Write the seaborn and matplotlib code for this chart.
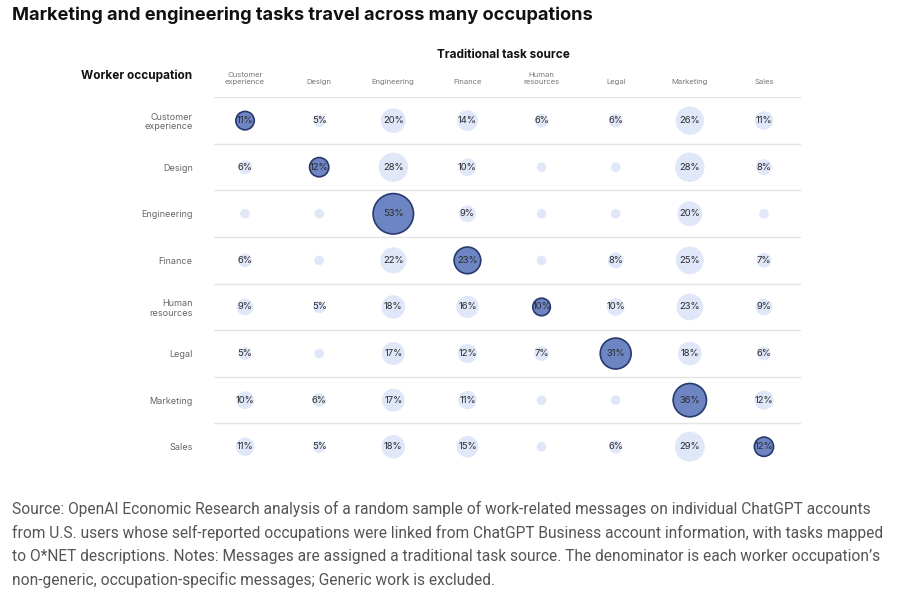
import numpy as np
import pandas as pd
import seaborn as sns
import matplotlib.pyplot as plt

# данные: строки - профессия работника, столбцы - источник задачи
occupations = ["Customer\nexperience", "Design", "Engineering", "Finance",
               "Human\nresources", "Legal", "Marketing", "Sales"]
sources = ["Customer\nexperience", "Design", "Engineering", "Finance",
           "Human\nresources", "Legal", "Marketing", "Sales"]

# пустые ячейки на картинке (меньше 5%) - маленькие точки, оценка ~3
customer_exp = [11, 5, 20, 14, 6, 6, 26, 11]
design       = [6, 12, 28, 10, 3, 3, 28, 8]
engineering  = [3, 3, 53, 9, 3, 3, 20, 3]
finance      = [6, 3, 22, 23, 3, 8, 25, 7]
human_res    = [9, 5, 18, 16, 10, 10, 23, 9]
legal        = [5, 3, 17, 12, 7, 31, 18, 6]
marketing    = [10, 6, 17, 11, 3, 3, 36, 12]
sales        = [11, 5, 18, 15, 3, 6, 29, 12]

matrix = [customer_exp, design, engineering, finance, human_res, legal, marketing, sales]

rows = []
for i, occ in enumerate(occupations):
    for j, src in enumerate(sources):
        rows.append({"row": i, "col": j, "value": matrix[i][j], "diag": i == j})
df = pd.DataFrame(rows)

sns.set_theme(style="white")
plt.rcParams["font.family"] = ["Inter", "DejaVu Sans"]

fig = plt.figure(figsize=(9.09, 6.16), dpi=100)
ax = fig.add_axes([0.2288, 0.237, 0.6524, 0.605])

max_v = df["value"].max()
size_kw = dict(size="value", sizes=(0, 16.0 * max_v), size_norm=(0, max_v), legend=False)

sns.scatterplot(data=df[~df["diag"]], x="col", y="row", color="#dfe7f8",
                edgecolor="none", linewidth=0, ax=ax, **size_kw)
sns.scatterplot(data=df[df["diag"]], x="col", y="row", color="#6e85c3",
                edgecolor="#273a6e", linewidth=1.2, ax=ax, **size_kw)

for _, r in df.iterrows():
    if r["value"] >= 5:
        ax.text(r["col"], r["row"], f"{r['value']}%", ha="center", va="center",
                fontsize=6.8, color="#2b2b2b", zorder=5)

for k in range(len(occupations)):
    ax.axhline(k - 0.5, xmin=0.01, xmax=1, color="#e4e4e4", lw=1, zorder=0)

ax.set_xlim(-0.5, len(sources) - 0.5)
ax.set_ylim(len(occupations) - 0.5, -0.5)
ax.xaxis.tick_top()
ax.set_xticks(range(len(sources)))
ax.set_xticklabels(sources, fontsize=5.5, color="#777777", linespacing=1.1)
ax.set_yticks(range(len(occupations)))
ax.set_yticklabels(occupations, fontsize=6.5, color="#666666", linespacing=1.1)
ax.tick_params(axis="x", length=0, pad=9)
ax.tick_params(axis="y", length=0, pad=11)
ax.set_xlabel("")
ax.set_ylabel("")
for s in ax.spines.values():
    s.set_visible(False)

fig.text(192 / 909, 1 - 76 / 616, "Worker occupation", ha="right", va="center",
         fontsize=8.5, fontweight="bold", color="#111111")
fig.text(503 / 909, 1 - 55 / 616, "Traditional task source", ha="center", va="center",
         fontsize=8.5, fontweight="bold", color="#111111")
fig.text(12 / 909, 1 - 15 / 616, "Marketing and engineering tasks travel across many occupations",
         ha="left", va="center", fontsize=13.1, fontweight="bold", color="#111111")

note = ("Source: OpenAI Economic Research analysis of a random sample of work-related messages on individual ChatGPT accounts\n"
        "from U.S. users whose self-reported occupations were linked from ChatGPT Business account information, with tasks mapped\n"
        "to O*NET descriptions. Notes: Messages are assigned a traditional task source. The denominator is each worker occupation\u2019s\n"
        "non-generic, occupation-specific messages; Generic work is excluded.")
fig.text(12 / 909, 1 - 501 / 616, note, ha="left", va="top", fontsize=11.2,
         color="#555555", linespacing=1.62, family=["Roboto", "DejaVu Sans"])

fig.savefig("out.png", dpi=100)
